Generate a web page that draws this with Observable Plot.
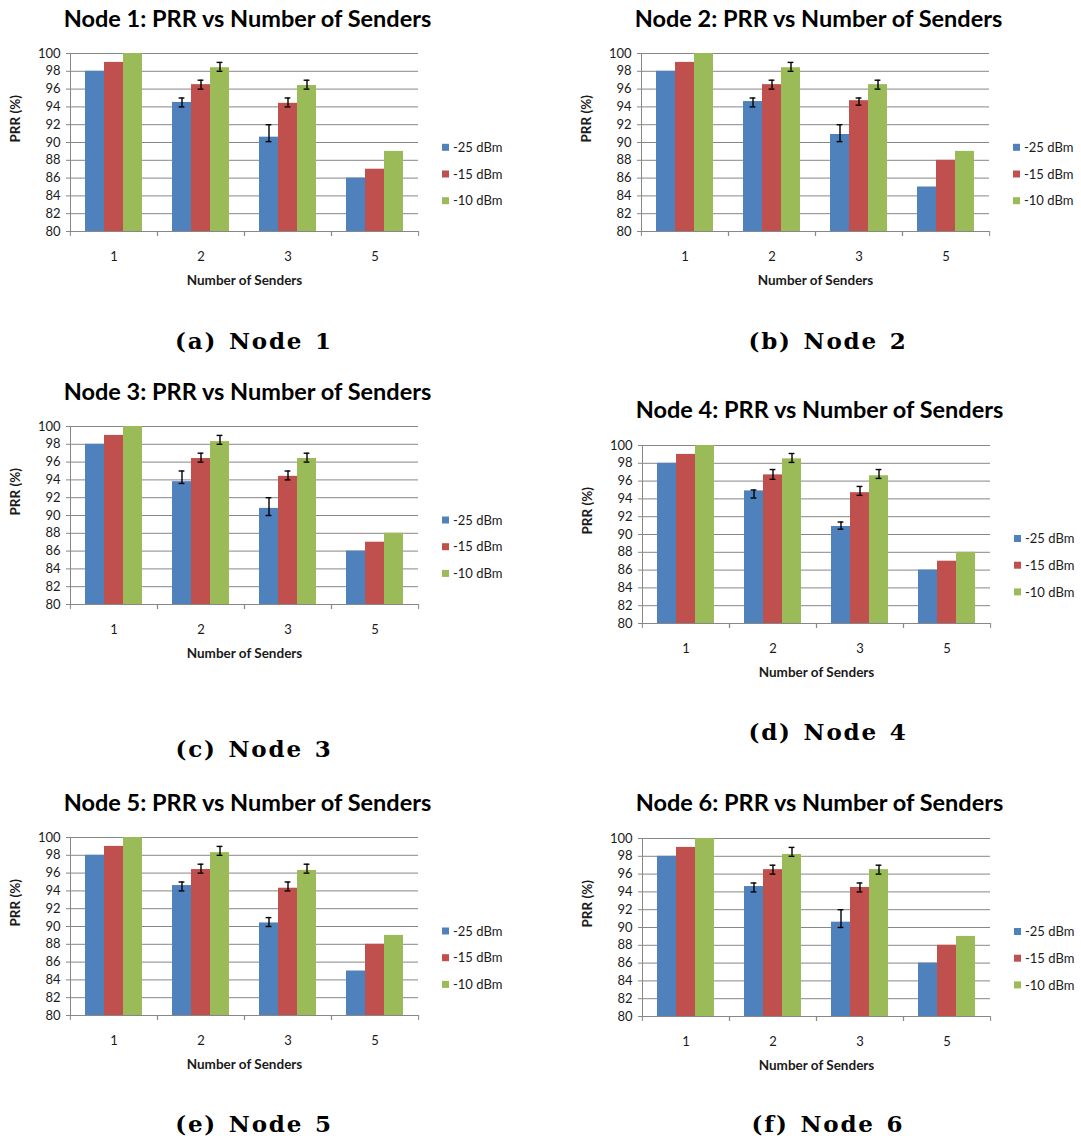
<!DOCTYPE html>
<html>
<head>
<meta charset="utf-8">
<script src="https://cdn.jsdelivr.net/npm/d3@7"></script>
<script src="https://cdn.jsdelivr.net/npm/@observablehq/plot@0.6"></script>
<style>
  html, body { margin: 0; padding: 0; background: #ffffff; }
  #fig { position: relative; width: 1081px; height: 1144px; overflow: hidden; background: #ffffff; }
  #fig svg.panel { position: absolute; }
  #overlay { position: absolute; left: 0; top: 0; pointer-events: none; }
</style>
</head>
<body>
<div id="fig"></div>
<script>
// ---------------- DATA ----------------
const nodeTitles = ["Node 1", "Node 2", "Node 3", "Node 4", "Node 5", "Node 6"];
const captionLetters = ["(a)", "(b)", "(c)", "(d)", "(e)", "(f)"];
const senders = ["1", "2", "3", "5"];
const series = ["-25 dBm", "-15 dBm", "-10 dBm"];
const yTicks = [80, 82, 84, 86, 88, 90, 92, 94, 96, 98, 100];

// PRR (%) per node (rows) per number of senders (columns)
const prrMinus25 = [
  [98, 94.5, 90.6, 86],
  [98, 94.6, 90.9, 85],
  [98, 93.8, 90.8, 86],
  [98, 94.9, 90.9, 86],
  [98, 94.6, 90.4, 85],
  [98, 94.6, 90.6, 86]
];
const prrMinus15 = [
  [99, 96.5, 94.4, 87],
  [99, 96.5, 94.7, 88],
  [99, 96.4, 94.4, 87],
  [99, 96.7, 94.7, 87],
  [99, 96.4, 94.3, 88],
  [99, 96.5, 94.5, 88]
];
const prrMinus10 = [
  [100, 98.4, 96.4, 89],
  [100, 98.4, 96.5, 89],
  [100, 98.3, 96.4, 88],
  [100, 98.5, 96.6, 88],
  [100, 98.3, 96.3, 89],
  [100, 98.2, 96.5, 89]
];

// Error bar ends (null = no error bar)
const lowMinus25 = [
  [null, 94.0, 90.1, null],
  [null, 94.0, 90.1, null],
  [null, 93.6, 90.0, null],
  [null, 94.1, 90.6, null],
  [null, 94.0, 90.0, null],
  [null, 94.0, 90.0, null]
];
const highMinus25 = [
  [null, 95.0, 92.0, null],
  [null, 95.0, 92.0, null],
  [null, 95.0, 92.0, null],
  [null, 95.0, 91.4, null],
  [null, 95.0, 91.0, null],
  [null, 95.0, 92.0, null]
];
const lowMinus15 = [
  [null, 96.0, 94.0, null],
  [null, 96.0, 94.2, null],
  [null, 96.0, 94.0, null],
  [null, 96.2, 94.4, null],
  [null, 96.0, 94.0, null],
  [null, 96.0, 94.0, null]
];
const highMinus15 = [
  [null, 97.0, 95.0, null],
  [null, 97.0, 95.0, null],
  [null, 97.0, 95.0, null],
  [null, 97.3, 95.4, null],
  [null, 97.0, 95.0, null],
  [null, 97.0, 95.0, null]
];
const lowMinus10 = [
  [null, 98.0, 96.0, null],
  [null, 98.0, 96.0, null],
  [null, 98.0, 96.0, null],
  [null, 98.1, 96.3, null],
  [null, 98.0, 96.0, null],
  [null, 98.0, 96.0, null]
];
const highMinus10 = [
  [null, 99.0, 97.0, null],
  [null, 99.0, 97.0, null],
  [null, 99.0, 97.0, null],
  [null, 99.1, 97.3, null],
  [null, 99.0, 97.0, null],
  [null, 99.0, 97.0, null]
];

const seriesColors = ["#4F81BD", "#C0504D", "#9BBB59"];

// ---------------- LAYOUT ----------------
const PW = 349, PH = 178;                 // plot area size
const ML = 69, MT = 10, MR = 14, MB = 72; // svg margins
const gridColor = "#878787";
const textColor = "#1a1a1a";

// plot-area left / top for each panel; caption position
const layout = [
  {left: 69,  top: 53.3,  capX: 254, capY: 349},
  {left: 640, top: 53.3,  capX: 828, capY: 349},
  {left: 69,  top: 426,   capX: 254, capY: 757},
  {left: 641, top: 444.5, capX: 828, capY: 740},
  {left: 69,  top: 837,   capX: 254, capY: 1132},
  {left: 641, top: 837.5, capX: 828, capY: 1132}
];

const prr = [prrMinus25, prrMinus15, prrMinus10];
const lows = [lowMinus25, lowMinus15, lowMinus10];
const highs = [highMinus25, highMinus15, highMinus10];

const fig = document.getElementById("fig");
const overlay = d3.create("svg")
  .attr("id", "overlay")
  .attr("width", 1081).attr("height", 1144);

nodeTitles.forEach((node, i) => {
  const rows = [];
  series.forEach((s, k) => senders.forEach((g, j) => {
    rows.push({senders: g, series: s, value: prr[k][i][j], lo: lows[k][i][j], hi: highs[k][i][j]});
  }));
  const errRows = rows.filter(d => d.lo != null && d.hi != null);
  const half = PW / senders.length / 2;

  const chart = Plot.plot({
    width: ML + PW + MR,
    height: MT + PH + MB,
    marginLeft: ML, marginTop: MT, marginRight: MR, marginBottom: MB,
    style: {fontFamily: "Lato, sans-serif", fontSize: "12.5px", color: textColor, background: "transparent", overflow: "visible"},
    fx: {domain: senders, padding: 0, label: null, axis: null},
    x: {domain: series, paddingInner: 0, paddingOuter: 0.772, axis: null},
    y: {domain: [80, 100], label: null, axis: null},
    color: {domain: series, range: seriesColors},
    marks: [
      Plot.ruleY(yTicks.filter(t => t > 80), {stroke: gridColor, strokeWidth: 1}),
      Plot.barY(rows, {fx: "senders", x: "series", y1: 80, y2: "value", fill: "series"}),
      Plot.ruleX(errRows, {fx: "senders", x: "series", y1: "lo", y2: "hi", stroke: "#000", strokeWidth: 1.4}),
      Plot.tickY(errRows, {fx: "senders", x: "series", y: "lo", stroke: "#000", strokeWidth: 1.4, insetLeft: 6.6, insetRight: 6.6}),
      Plot.tickY(errRows, {fx: "senders", x: "series", y: "hi", stroke: "#000", strokeWidth: 1.4, insetLeft: 6.6, insetRight: 6.6}),
      Plot.ruleY([80], {stroke: gridColor, strokeWidth: 1}),
      Plot.frame({anchor: "left", facet: "super", stroke: gridColor, strokeWidth: 1}),
      Plot.axisY({ticks: yTicks, tickSize: 4, tickPadding: 6, stroke: gridColor, fill: textColor, label: null, tickFormat: d => String(d), fontSize: 13}),
      Plot.axisFx({anchor: "bottom", tickSize: 0, tickPadding: 20, label: null, fill: textColor, fontSize: 13}),
      Plot.axisFx({anchor: "bottom", tickSize: 5, text: null, label: null, dx: -half, stroke: gridColor}),
      Plot.axisFx({anchor: "bottom", tickSize: 5, text: null, label: null, dx: half, stroke: gridColor}),
      Plot.text(["PRR (%)"], {text: d => d, frameAnchor: "left", rotate: -90, dx: -55, fontWeight: "bold", fontSize: 13.5, fill: textColor, facet: "super"}),
      Plot.text(["Number of Senders"], {text: d => d, frameAnchor: "bottom", dy: 53, fontWeight: "bold", fontSize: 13.5, fill: textColor, facet: "super"})
    ]
  });

  const L = layout[i];
  chart.classList.add("panel");
  chart.style.left = (L.left - ML) + "px";
  chart.style.top = (L.top - MT) + "px";
  chart.style.maxWidth = "none";
  fig.appendChild(chart);

  const colorScale = chart.scale("color");

  // Title
  overlay.append("text")
    .attr("x", L.left + PW / 2 + 4)
    .attr("y", L.top - 26.5)
    .attr("text-anchor", "middle")
    .attr("font-family", "Lato, sans-serif")
    .attr("font-weight", "bold")
    .attr("font-size", 23.5)
    .attr("fill", "#000")
    .text(`${node}: PRR vs Number of Senders`);

  // Legend
  series.forEach((s, k) => {
    const cy = L.top + 94 + 26.7 * k;
    overlay.append("rect")
      .attr("x", L.left + PW + 24).attr("y", cy - 3.5)
      .attr("width", 7).attr("height", 7)
      .attr("fill", colorScale.apply(s));
    overlay.append("text")
      .attr("x", L.left + PW + 35).attr("y", cy)
      .attr("dy", "0.36em")
      .attr("font-family", "Lato, sans-serif")
      .attr("font-size", 13)
      .attr("fill", textColor)
      .text(s);
  });

  // Caption
  overlay.append("text")
    .attr("x", L.capX).attr("y", L.capY)
    .attr("text-anchor", "middle")
    .attr("font-family", "'DejaVu Serif', serif")
    .attr("font-weight", "bold")
    .attr("font-size", 23)
    .attr("letter-spacing", "1.8px")
    .attr("word-spacing", "2px")
    .attr("fill", "#000")
    .text(`${captionLetters[i]} ${node}`);
});

fig.appendChild(overlay.node());
</script>
</body>
</html>
